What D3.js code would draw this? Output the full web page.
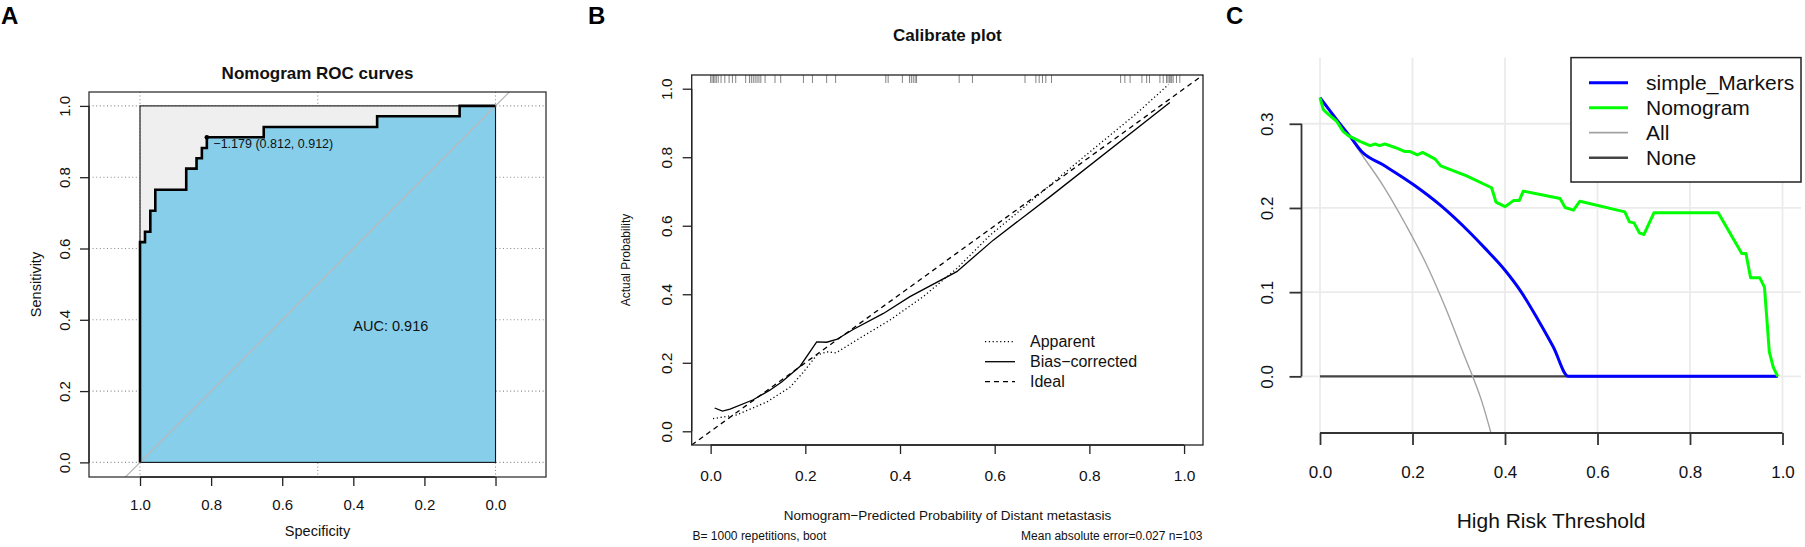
<!DOCTYPE html>
<html>
<head>
<meta charset="utf-8">
<script src="https://cdn.jsdelivr.net/npm/d3@7"></script>
<style>
  body { margin: 0; background: #fff; }
  svg { display: block; }
</style>
</head>
<body>
<svg id="chart"></svg>
<script>
// ---------- A: ROC curve (specificity / sensitivity vertices) ----------
const rocSpec = [1, 1, 0.986, 0.986, 0.971, 0.971, 0.957, 0.957, 0.870, 0.870, 0.841, 0.841, 0.826, 0.826, 0.812, 0.812, 0.652, 0.652, 0.333, 0.333, 0.101, 0.101, 0];
const rocSens = [0, 0.618, 0.618, 0.647, 0.647, 0.706, 0.706, 0.765, 0.765, 0.824, 0.824, 0.853, 0.853, 0.882, 0.882, 0.912, 0.912, 0.941, 0.941, 0.971, 0.971, 1, 1];
const bestCut = [-1.179, 0.812, 0.912]; // threshold, specificity, sensitivity
const rocAuc = 0.916;
const rocSpecTicks = [1.0, 0.8, 0.6, 0.4, 0.2, 0.0];
const rocSensTicks = [0.0, 0.2, 0.4, 0.6, 0.8, 1.0];
const rocGridSpec = [1.0, 0.5, 0.0];

// ---------- B: calibration ----------
const appX = [0.005, 0.055, 0.118, 0.168, 0.196, 0.224, 0.245, 0.265, 0.308, 0.379, 0.449, 0.52, 0.59, 0.66, 0.75, 0.8225, 0.9, 0.967];
const appY = [0.037, 0.048, 0.085, 0.129, 0.173, 0.222, 0.232, 0.229, 0.266, 0.325, 0.393, 0.475, 0.572, 0.652, 0.757, 0.84, 0.928, 1.012];
const biasX = [0.0085, 0.025, 0.041, 0.09, 0.125, 0.15, 0.189, 0.224, 0.245, 0.266, 0.301, 0.365, 0.421, 0.52, 0.597, 0.717, 0.97];
const biasY = [0.068, 0.059, 0.065, 0.092, 0.12, 0.144, 0.19, 0.261, 0.26, 0.268, 0.297, 0.344, 0.393, 0.466, 0.558, 0.685, 0.96];
const rugX = [0.000, 0.003, 0.006, 0.009, 0.012, 0.016, 0.022, 0.030, 0.039, 0.046, 0.053, 0.074, 0.082, 0.086, 0.090, 0.094,
  0.098, 0.102, 0.106, 0.115, 0.136, 0.148, 0.196, 0.215, 0.245, 0.264, 0.370, 0.375, 0.405, 0.420, 0.424, 0.428, 0.432,
  0.435, 0.525, 0.553, 0.664, 0.687, 0.694, 0.701, 0.708, 0.720, 0.866, 0.875, 0.886, 0.911, 0.921, 0.927, 0.949, 0.956,
  0.963, 0.966, 0.969, 0.972, 0.974, 0.977, 0.984, 0.991];
const calTicks = [0, 0.2, 0.4, 0.6, 0.8, 1.0];
const calLegend = ["Apparent", "Bias\u2212corrected", "Ideal"];
const calInfo = [1000, 0.027, 103]; // bootstrap B, mean absolute error, n

// ---------- C: decision curve ----------
const markX = [0, 0.036, 0.065, 0.09, 0.137, 0.204, 0.262, 0.32, 0.357, 0.4, 0.436, 0.472, 0.5045, 0.537, 0.9895];
const markY = [0.331, 0.305, 0.285, 0.267, 0.251, 0.227, 0.2025, 0.173, 0.152, 0.126, 0.0995, 0.0666, 0.0348, 0, 0];
const nomoX = [0, 0.007, 0.0145, 0.036, 0.05, 0.061, 0.0865, 0.108, 0.119, 0.128, 0.1405, 0.166, 0.184, 0.195, 0.2105, 0.222,
  0.249, 0.261, 0.317, 0.371, 0.3805, 0.4, 0.419, 0.431, 0.4395, 0.519, 0.53, 0.548, 0.562, 0.659, 0.669, 0.679, 0.6905,
  0.7005, 0.722, 0.861, 0.912, 0.921, 0.931, 0.951, 0.961, 0.9715, 0.98, 0.9895];
const nomoY = [0.331, 0.317, 0.313, 0.303, 0.291, 0.286, 0.279, 0.274, 0.276, 0.274, 0.276, 0.271, 0.267, 0.267, 0.263, 0.266,
  0.258, 0.25, 0.238, 0.224, 0.207, 0.2015, 0.209, 0.209, 0.22, 0.2113, 0.2006, 0.1974, 0.208, 0.1954, 0.1835, 0.1823, 0.1704,
  0.1685, 0.1942, 0.1942, 0.1459, 0.1459, 0.117, 0.117, 0.106, 0.029, 0.011, 0];
const allX = [0, 0.05, 0.087, 0.137, 0.1875, 0.231, 0.274, 0.316, 0.33, 0.35, 0.37];
const allY = [0.33, 0.296, 0.266, 0.226, 0.178, 0.132, 0.078, 0.019, 0, -0.03, -0.068];
const noneX = [0, 0.9895];
const noneY = [0, 0];
const dcaXTicks = [0, 0.2, 0.4, 0.6, 0.8, 1.0];
const dcaYTicks = [0, 0.1, 0.2, 0.3];
const dcaLegend = ["simple_Markers", "Nomogram", "All", "None"];

const FONT = '"Liberation Sans", Arial, Helvetica, sans-serif';
const fmt1 = d3.format(".1f"), fmt3 = d3.format(".3f");
const zip = (xs, ys) => xs.map((x, i) => [x, ys[i]]);

const svg = d3.select("#chart").attr("width", 1805).attr("height", 547).attr("font-family", FONT);
const defs = svg.append("defs");

// R-style axis: line only between first and last tick, y labels rotated
function axisR(g, scale, ticks, side, o) {
  const ax = (side === "bottom" ? d3.axisBottom(scale) : d3.axisLeft(scale))
    .tickValues(ticks).tickSize(o.len).tickSizeOuter(0).tickFormat(fmt1);
  g.call(ax).attr("font-family", FONT).attr("font-size", o.font).attr("color", o.color || "#222");
  const lo = d3.min(ticks), hi = d3.max(ticks);
  g.select(".domain")
    .attr("d", side === "bottom" ? `M${scale(lo)},0H${scale(hi)}` : `M0,${scale(lo)}V${scale(hi)}`)
    .attr("stroke-width", o.width);
  g.selectAll(".tick line").attr("stroke-width", o.width);
  const t = g.selectAll(".tick text").attr("fill", "#111");
  if (side === "bottom") t.attr("y", o.off).attr("dy", null);
  else t.attr("x", 0).attr("y", -o.off).attr("dy", null).attr("transform", "rotate(-90)").attr("text-anchor", "middle");
}

function label(g, txt, x, y, size, opts = {}) {
  const t = g.append("text").attr("x", x).attr("y", y).attr("font-size", size)
    .attr("text-anchor", opts.anchor || "middle").attr("fill", "#111").text(txt);
  if (opts.bold) t.attr("font-weight", "bold");
  if (opts.rotate) t.attr("transform", `rotate(-90,${x},${y})`);
  return t;
}

// panel letters
[["A", 1], ["B", 588], ["C", 1226]].forEach(([s, x]) =>
  label(svg, s, x, 24, 24, {anchor: "start", bold: true}).attr("fill", "#000"));

// =================== Panel A ===================
const gA = svg.append("g");
const xA = d3.scaleLinear().domain([1.1435, -0.142]).range([89, 546]);
const yA = d3.scaleLinear().domain([-0.041, 1.039]).range([477, 92]);
defs.append("clipPath").attr("id", "clipA").append("rect")
  .attr("x", 89).attr("y", 92).attr("width", 457).attr("height", 385);

gA.selectAll(".gh").data(rocSensTicks).join("line")
  .attr("x1", 89).attr("x2", 546).attr("y1", d => yA(d)).attr("y2", d => yA(d))
  .attr("stroke", "#8a8a8a").attr("stroke-width", 1.1).attr("stroke-dasharray", "1,2.6");
gA.selectAll(".gv").data(rocGridSpec).join("line")
  .attr("y1", 92).attr("y2", 477).attr("x1", d => xA(d)).attr("x2", d => xA(d))
  .attr("stroke", "#8a8a8a").attr("stroke-width", 1.1).attr("stroke-dasharray", "1,2.6");

// max AUC polygon (grey) and AUC polygon (blue)
gA.append("rect").attr("x", xA(1)).attr("y", yA(1))
  .attr("width", xA(0) - xA(1)).attr("height", yA(0) - yA(1)).attr("fill", "#EFEFEF");
const rocPts = zip(rocSpec, rocSens);
const lineA = d3.line().x(d => xA(d[0])).y(d => yA(d[1]));
gA.append("path").attr("d", lineA(rocPts.concat([[0, 0], [1, 0]])) + "Z").attr("fill", "#87CEEB");
gA.append("rect").attr("x", xA(1)).attr("y", yA(1))
  .attr("width", xA(0) - xA(1)).attr("height", yA(0) - yA(1))
  .attr("fill", "none").attr("stroke", "#111").attr("stroke-width", 1.1);

gA.append("line").attr("clip-path", "url(#clipA)")
  .attr("x1", xA(1.3)).attr("y1", yA(-0.3)).attr("x2", xA(-0.3)).attr("y2", yA(1.3))
  .attr("stroke", "#b9b9b9").attr("stroke-width", 1.3);

gA.append("path").attr("d", lineA(rocPts)).attr("fill", "none")
  .attr("stroke", "#000").attr("stroke-width", 2.6).attr("stroke-linejoin", "miter");
gA.append("circle").attr("cx", xA(bestCut[1])).attr("cy", yA(bestCut[2])).attr("r", 2.3).attr("fill", "#000");
label(gA, `${fmt3(bestCut[0])} (${fmt3(bestCut[1])}, ${fmt3(bestCut[2])})`,
  xA(bestCut[1]) + 6.5, yA(bestCut[2]) + 10.8, 12.5, {anchor: "start"});
label(gA, `AUC: ${fmt3(rocAuc)}`, xA(0.4), yA(0.4) + 11.5, 14.5, {anchor: "start"});

gA.append("rect").attr("x", 89).attr("y", 92).attr("width", 457).attr("height", 385)
  .attr("fill", "none").attr("stroke", "#333").attr("stroke-width", 1.3);
axisR(gA.append("g").attr("transform", "translate(0,477)"), xA, rocSpecTicks, "bottom",
  {len: 9, off: 33, font: 15, width: 1.3});
axisR(gA.append("g").attr("transform", "translate(89,0)"), yA, rocSensTicks, "left",
  {len: 9, off: 19, font: 15, width: 1.3});
label(gA, "Nomogram ROC curves", 317.5, 79, 17, {bold: true});
label(gA, "Specificity", 317.5, 536, 14.5);
label(gA, "Sensitivity", 41, 284.5, 14.5, {rotate: true});

// =================== Panel B ===================
const gB = svg.append("g");
const xB = d3.scaleLinear().domain([-0.04, 1.04]).range([691.7, 1203]);
const yB = d3.scaleLinear().domain([-0.04, 1.04]).range([445, 75]);
defs.append("clipPath").attr("id", "clipB").append("rect")
  .attr("x", 691.7).attr("y", 75).attr("width", 511.3).attr("height", 370);
const lineB = d3.line().x(d => xB(d[0])).y(d => yB(d[1]));

gB.selectAll(".rug").data(rugX).join("line")
  .attr("x1", d => xB(d)).attr("x2", d => xB(d)).attr("y1", 75).attr("y2", 83)
  .attr("stroke", "#666").attr("stroke-width", 0.8);
const cB = gB.append("g").attr("clip-path", "url(#clipB)");
cB.append("path").attr("d", lineB([[-0.04, -0.04], [1.04, 1.04]])).attr("fill", "none")
  .attr("stroke", "#000").attr("stroke-width", 1.3).attr("stroke-dasharray", "5,4");
cB.append("path").attr("d", lineB(zip(appX, appY))).attr("fill", "none")
  .attr("stroke", "#000").attr("stroke-width", 1.3).attr("stroke-dasharray", "1.2,2.6");
cB.append("path").attr("d", lineB(zip(biasX, biasY))).attr("fill", "none")
  .attr("stroke", "#000").attr("stroke-width", 1.3);

gB.append("rect").attr("x", 691.7).attr("y", 75).attr("width", 511.3).attr("height", 370)
  .attr("fill", "none").attr("stroke", "#222").attr("stroke-width", 1.3);
axisR(gB.append("g").attr("transform", "translate(0,445)"), xB, calTicks, "bottom",
  {len: 9, off: 35.7, font: 15.5, width: 1.3});
axisR(gB.append("g").attr("transform", "translate(691.7,0)"), yB, calTicks, "left",
  {len: 9, off: 20, font: 15.5, width: 1.3});

const calDash = [["1.2,2.6"], [null], ["5,4"]];
calLegend.forEach((s, i) => {
  const y = 341.7 + i * 20;
  gB.append("line").attr("x1", 985).attr("x2", 1015).attr("y1", y).attr("y2", y)
    .attr("stroke", "#000").attr("stroke-width", 1.3).attr("stroke-dasharray", calDash[i][0]);
  label(gB, s, 1030, y, 16, {anchor: "start"}).attr("dy", "0.35em");
});

label(gB, "Calibrate plot", 947.4, 41, 17, {bold: true});
label(gB, "Nomogram\u2212Predicted Probability of Distant metastasis", 947.4, 520, 13.5);
label(gB, `B= ${calInfo[0]} repetitions, boot`, 692.5, 539.5, 12, {anchor: "start"});
label(gB, `Mean absolute error=${fmt3(calInfo[1])} n=${calInfo[2]}`, 1202.5, 539.5, 12, {anchor: "end"});
label(gB, "Actual Probability", 629.5, 260, 12, {rotate: true});

// =================== Panel C ===================
const gC = svg.append("g");
const xC = d3.scaleLinear().domain([-0.04, 1.04]).range([1301.5, 1801]);
const yC = d3.scaleLinear().domain([-0.0673, 0.3786]).range([433, 57.6]);
defs.append("clipPath").attr("id", "clipC").append("rect")
  .attr("x", 1301.5).attr("y", 57.6).attr("width", 499.5).attr("height", 375.4);
const lineC = d3.line().x(d => xC(d[0])).y(d => yC(d[1]));
const smoothC = d3.line().x(d => xC(d[0])).y(d => yC(d[1])).curve(d3.curveMonotoneX);

gC.selectAll(".gv").data(dcaXTicks).join("line")
  .attr("x1", d => xC(d)).attr("x2", d => xC(d)).attr("y1", 57.6).attr("y2", 433)
  .attr("stroke", "#ebebeb").attr("stroke-width", 1.8);
gC.selectAll(".gh").data(dcaYTicks).join("line")
  .attr("x1", 1301.5).attr("x2", 1801).attr("y1", d => yC(d)).attr("y2", d => yC(d))
  .attr("stroke", "#ebebeb").attr("stroke-width", 1.8);

const dcaSeries = [
  {pts: zip(noneX, noneY), color: "#444", w: 2.2, gen: lineC},
  {pts: zip(allX, allY), color: "#a3a3a3", w: 1.4, gen: smoothC},
  {pts: zip(markX, markY), color: "#0000ff", w: 3, gen: smoothC},
  {pts: zip(nomoX, nomoY), color: "#00ff00", w: 3, gen: lineC}
];
const cC = gC.append("g").attr("clip-path", "url(#clipC)");
dcaSeries.forEach(s => cC.append("path").attr("d", s.gen(s.pts)).attr("fill", "none")
  .attr("stroke", s.color).attr("stroke-width", s.w).attr("stroke-linejoin", "round"));

axisR(gC.append("g").attr("transform", "translate(0,433)"), xC, dcaXTicks, "bottom",
  {len: 12, off: 45, font: 17, width: 1.8, color: "#333"});
axisR(gC.append("g").attr("transform", "translate(1301.5,0)"), yC, dcaYTicks, "left",
  {len: 12, off: 28.5, font: 17, width: 1.8, color: "#333"});
label(gC, "High Risk Threshold", 1551, 527.5, 21);

// legend
gC.append("rect").attr("x", 1571).attr("y", 57.6).attr("width", 230).attr("height", 124.4)
  .attr("fill", "#fff").attr("stroke", "#222").attr("stroke-width", 1.5);
const legStyle = [dcaSeries[2], dcaSeries[3], dcaSeries[1], dcaSeries[0]];
dcaLegend.forEach((s, i) => {
  const y = 82.7 + i * 25;
  gC.append("line").attr("x1", 1589).attr("x2", 1628).attr("y1", y).attr("y2", y)
    .attr("stroke", legStyle[i].color).attr("stroke-width", legStyle[i].w + (i > 1 ? 0.4 : 0));
  label(gC, s, 1646, y, 21, {anchor: "start"}).attr("dy", "0.35em");
});
</script>
</body>
</html>
